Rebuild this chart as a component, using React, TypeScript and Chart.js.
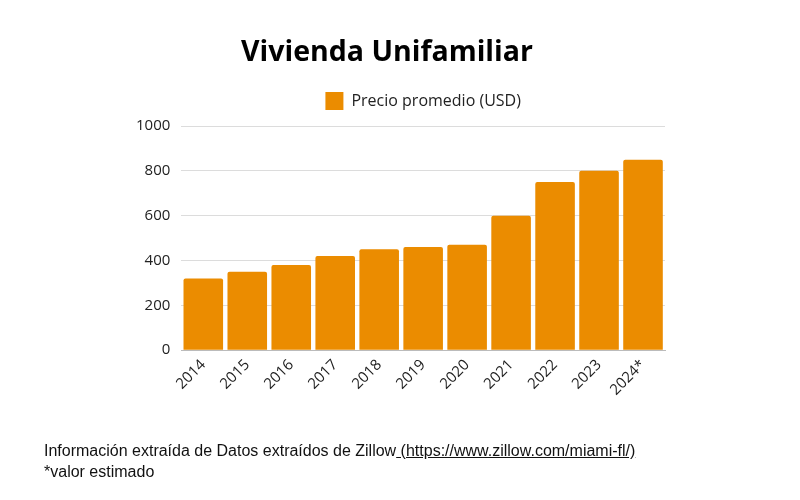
import React, { useEffect, useRef } from "react";
import { Chart, registerables } from "chart.js";

Chart.register(...registerables);

const categories = ["2014", "2015", "2016", "2017", "2018", "2019", "2020", "2021", "2022", "2023", "2024*"];
const precios = [320, 350, 380, 420, 450, 460, 470, 600, 750, 800, 850];
const seriesLabel = "Precio promedio (USD)";
const titleText = "Vivienda Unifamiliar";
const footerLine1 = "Información extraída de Datos extraídos de Zillow";
const footerLink = " (https://www.zillow.com/miami-fl/)";
const footerLine2 = "*valor estimado";

const legendSpacer = {
  id: "legendSpacer",
  beforeInit(chart: any) {
    const legend = chart.legend;
    if (!legend) return;
    const origFit = legend.fit;
    legend.fit = function () {
      origFit.call(this);
      this.height += 6;
    };
  },
};

export default function App() {
  const ref = useRef<HTMLCanvasElement>(null);
  useEffect(() => {
    if (!ref.current) return;
    const chart = new Chart(ref.current, {
      type: "bar",
      data: {
        labels: categories,
        datasets: [
          {
            label: seriesLabel,
            data: precios,
            backgroundColor: "#EB8C00",
            borderRadius: 2,
            borderSkipped: "bottom",
            barPercentage: 0.9,
            categoryPercentage: 1,
          },
        ],
      },
      plugins: [legendSpacer],
      options: {
        animation: false,
        responsive: false,
        layout: { padding: { left: 125, right: 135, top: 76, bottom: 95 } },
        plugins: {
          tooltip: { enabled: false },
          legend: {
            fullSize: false,
            labels: {
              boxWidth: 18,
              boxHeight: 18,
              padding: 16,
              color: "#222",
              font: { family: "'Open Sans'", size: 16 },
            },
          },
        },
        scales: {
          x: {
            grid: { display: false, drawTicks: false },
            border: { color: "#bbb" },
            ticks: {
              minRotation: 45,
              maxRotation: 45,
              color: "#222",
              padding: 6,
              font: { family: "'Open Sans'", size: 15 },
            },
          },
          y: {
            min: 0,
            max: 1000,
            grid: { color: "#dcdcdc", drawTicks: false },
            border: { display: false },
            ticks: {
              stepSize: 200,
              color: "#222",
              padding: 11,
              font: { family: "'Open Sans'", size: 15 },
              callback: (v: any) => String(v),
            },
          },
        },
      },
    });
    return () => chart.destroy();
  }, []);
  return (
    <div style={{ position: "absolute", left: 0, top: 0, width: 800, height: 500, background: "#fff" }}>
      <canvas ref={ref} width={800} height={500} style={{ position: "absolute", left: 0, top: 0 }} />
      <div
        style={{
          position: "absolute",
          left: 0,
          top: 30,
          width: 774,
          textAlign: "center",
          fontFamily: "'Open Sans'",
          fontWeight: 700,
          fontSize: 28.5,
          color: "#000",
          lineHeight: "40px",
        }}
      >
        {titleText}
      </div>
      <div
        style={{
          position: "absolute",
          left: 44,
          top: 440,
          fontFamily: "'Liberation Sans'",
          fontSize: 16,
          lineHeight: "21px",
          color: "#111",
          whiteSpace: "nowrap",
        }}
      >
        <div>
          {footerLine1}
          <span style={{ textDecoration: "underline" }}>{footerLink}</span>
        </div>
        <div>{footerLine2}</div>
      </div>
    </div>
  );
}
